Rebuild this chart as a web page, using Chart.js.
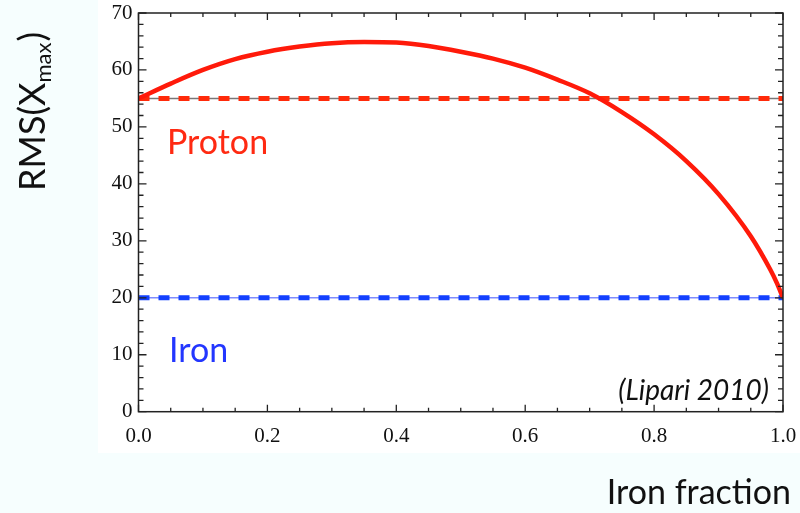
<!DOCTYPE html>
<html>
<head>
<meta charset="utf-8">
<script src="https://cdn.jsdelivr.net/npm/chart.js@4.4.1/dist/chart.umd.min.js"></script>
<style>
  html, body { margin: 0; padding: 0; background: #f6fefe; }
  #wrap { width: 800px; height: 513px; position: relative; }
</style>
</head>
<body>
<div id="wrap"><canvas id="chart1" width="800" height="513"></canvas></div>
<script>
// iron fraction and RMS(Xmax)
var fraction = [0, 0.05, 0.10, 0.15, 0.20, 0.25, 0.30, 0.35, 0.40, 0.45, 0.50, 0.55, 0.60, 0.65, 0.70, 0.75, 0.80, 0.85, 0.90, 0.95, 0.98, 0.99, 1.00];
var rmsMix = [55, 57.6, 60.0, 61.9, 63.2, 64.1, 64.7, 64.9, 64.8, 64.2, 63.2, 62.0, 60.4, 58.3, 55.9, 52.6, 48.7, 44.0, 38.2, 30.8, 25.0, 22.7, 20.0];
var protonRms = 55;
var ironRms = 20;
var xTicks = [0, 0.2, 0.4, 0.6, 0.8, 1.0];
var yTicks = [0, 10, 20, 30, 40, 50, 60, 70];

var curve = fraction.map(function (f, i) { return { x: f, y: rmsMix[i] }; });
function flat(v) { return [{ x: 0, y: v }, { x: 1, y: v }]; }

// page background, frame, inward ticks and text labels
var decor = {
    id: 'decor',
    beforeDraw: function (chart) {
        var c = chart.ctx;
        c.save();
        c.fillStyle = '#f6fefe';
        c.fillRect(0, 0, chart.width, chart.height);
        c.fillStyle = '#ffffff';
        c.fillRect(98, 0, chart.width - 98, 453);
        c.restore();
    },
    afterDraw: function (chart) {
        var c = chart.ctx, a = chart.chartArea;
        var xs = chart.scales.x, ys = chart.scales.y;
        c.save();
        c.strokeStyle = '#222';
        c.lineWidth = 1.5;
        c.strokeRect(a.left, a.top, a.right - a.left, a.bottom - a.top);
        c.lineWidth = 1.3;
        c.beginPath();
        for (var v = 0; v <= 70; v += 2) {
            var py = ys.getPixelForValue(v);
            var len = (v % 10 === 0) ? 8 : 5;
            c.moveTo(a.left, py); c.lineTo(a.left + len, py);
            c.moveTo(a.right, py); c.lineTo(a.right - len, py);
        }
        for (var k = 0; k <= 20; k++) {
            var px = xs.getPixelForValue(k * 0.05);
            var l2 = (k % 4 === 0) ? 7 : 4;
            c.moveTo(px, a.bottom); c.lineTo(px, a.bottom - l2);
            c.moveTo(px, a.top); c.lineTo(px, a.top + l2);
        }
        c.stroke();

        c.textBaseline = 'alphabetic';
        c.font = '34px Lato';
        c.fillStyle = '#ff2a12';
        c.fillText('Proton', 167, 154);
        c.fillStyle = '#2336ff';
        c.fillText('Iron', 169, 362);

        c.fillStyle = '#111';
        c.font = 'italic 28px Lato';
        c.textAlign = 'right';
        c.fillText('(Lipari 2010)', 769, 400);

        c.font = '34px Lato';
        c.fillText('Iron fraction', 791, 504);

        // rotated y title with subscript
        c.translate(45, 191);
        c.rotate(-Math.PI / 2);
        c.textAlign = 'left';
        c.font = '36px Lato';
        var t1 = 'RMS(X';
        c.fillText(t1, 0, 0);
        var w1 = c.measureText(t1).width;
        c.font = '22px Lato';
        c.fillText('max', w1, 6);
        var w2 = c.measureText('max').width;
        c.font = '36px Lato';
        c.fillText(')', w1 + w2 + 1, 0);
        c.restore();
    }
};

new Chart(document.getElementById('chart1').getContext('2d'), {
    type: 'line',
    data: {
        datasets: [{
            data: flat(protonRms),
            borderColor: '#777777',
            borderWidth: 1.5,
            pointRadius: 0,
            order: 5
        }, {
            data: flat(protonRms),
            borderColor: '#ff2a0a',
            borderWidth: 5,
            borderDash: [11, 9],
            borderCapStyle: 'butt',
            pointRadius: 0,
            order: 4
        }, {
            data: flat(ironRms),
            borderColor: '#7f8cff',
            borderWidth: 1.5,
            pointRadius: 0,
            order: 3
        }, {
            data: flat(ironRms),
            borderColor: '#1340ff',
            borderWidth: 5,
            borderDash: [11, 9],
            borderCapStyle: 'butt',
            pointRadius: 0,
            order: 2
        }, {
            data: curve,
            borderColor: '#ff1a0a',
            borderWidth: 4.5,
            pointRadius: 0,
            cubicInterpolationMode: 'monotone',
            order: 1
        }]
    },
    options: {
        responsive: false,
        animation: false,
        events: [],
        layout: { autoPadding: false, padding: { left: 0, top: 13, right: 17, bottom: 0 } },
        plugins: { legend: { display: false }, tooltip: { enabled: false } },
        scales: {
            x: {
                type: 'linear',
                min: 0,
                max: 1,
                afterBuildTicks: function (s) { s.ticks = xTicks.map(function (v) { return { value: v }; }); },
                afterFit: function (s) { s.height = 101.3; s.paddingLeft = 0; s.paddingRight = 0; },
                grid: { display: false, drawTicks: false },
                border: { display: false },
                ticks: {
                    padding: 12,
                    color: '#111',
                    maxRotation: 0,
                    font: { family: 'Liberation Serif', size: 21 },
                    callback: function (v) { return v.toFixed(1); }
                }
            },
            y: {
                min: 0,
                max: 70,
                afterBuildTicks: function (s) { s.ticks = yTicks.map(function (v) { return { value: v }; }); },
                afterFit: function (s) { s.width = 138.5; s.paddingTop = 0; s.paddingBottom = 0; },
                grid: { display: false, drawTicks: false },
                border: { display: false },
                ticks: {
                    padding: 6,
                    color: '#111',
                    font: { family: 'Liberation Serif', size: 21 }
                }
            }
        }
    },
    plugins: [decor]
});
</script>
</body>
</html>
